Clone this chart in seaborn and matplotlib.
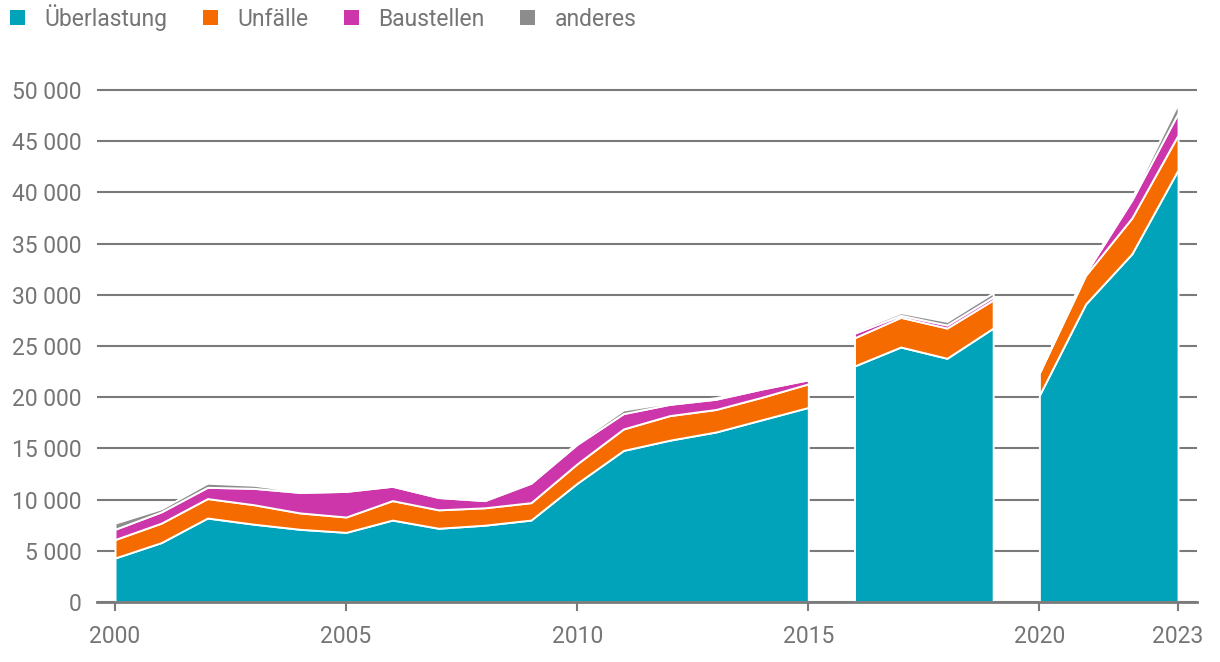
import matplotlib
matplotlib.use("Agg")
import matplotlib.pyplot as plt
from matplotlib.patches import Patch
import seaborn as sns
import numpy as np

# ---- data ----
years = list(range(2000, 2024))
ueberlastung = [4300, 5800, 8200, 7600, 7100, 6800, 8000, 7200, 7500, 8000, 11600, 14800,
                15800, 16600, 17800, 19000, 23050, 24900, 23800, 26750, 20200, 29100, 34000, 42200]
unfaelle = [1800, 1900, 1900, 1900, 1600, 1500, 1900, 1800, 1700, 1700, 1900, 2100,
            2400, 2200, 2200, 2300, 2750, 2900, 2950, 2750, 2200, 2800, 3500, 3400]
baustellen = [1000, 1100, 1100, 1600, 2000, 2500, 1400, 1200, 700, 1900, 1900, 1500,
              1100, 1000, 800, 400, 450, 200, 300, 300, 0, 200, 1750, 2150]
anderes = [600, 300, 400, 300, 100, 100, 100, 100, 100, 200, 200, 350,
           150, 150, 150, 150, 200, 250, 350, 400, 0, 300, 250, 950]
series_labels = ["Überlastung", "Unfälle", "Baustellen", "anderes"]
segments = [(2000, 2015), (2016, 2019), (2020, 2023)]  # continuous stretches of the series
x_ticks = [2000, 2005, 2010, 2015, 2020, 2023]
y_ticks = [0, 5000, 10000, 15000, 20000, 25000, 30000, 35000, 40000, 45000, 50000]

colors = ["#00a3ba", "#f56b00", "#cc36aa", "#8c8c8c"]
text_color = "#757575"
grid_color = "#7a7a7a"

sns.set_theme(style="white")
plt.rcParams["font.family"] = ["Roboto", "DejaVu Sans"]

fig = plt.figure(figsize=(12.2, 6.62), dpi=100)
W, H = 1220, 662
ax = fig.add_axes([97 / W, 60 / H, 1100 / W, 532.5 / H])

yrs = np.array(years)
stack = [np.array(s) for s in (ueberlastung, unfaelle, baustellen, anderes)]
for a, b in segments:
    m = (yrs >= a) & (yrs <= b)
    ax.stackplot(yrs[m], *[s[m] for s in stack], colors=colors,
                 edgecolor="white", linewidth=1.4, zorder=3)

ax.set_xlim(1999.61, 2023.41)
ax.set_ylim(0, 52000)
ax.set_xticks(x_ticks)
ax.set_xticklabels([str(t) for t in x_ticks])
ax.set_yticks(y_ticks)
ax.set_yticklabels([f"{v:,}".replace(",", " ") for v in y_ticks])

ax.set_axisbelow(True)
ax.yaxis.grid(True, color=grid_color, linewidth=1.5)
ax.xaxis.grid(False)
for s in ("top", "right", "left"):
    ax.spines[s].set_visible(False)
ax.spines["bottom"].set_color(grid_color)
ax.spines["bottom"].set_linewidth(2)
ax.spines["bottom"].set_zorder(5)

ax.tick_params(axis="y", length=0, pad=11, labelsize=16.5, labelcolor=text_color)
ax.tick_params(axis="x", length=6.5, width=1.5, color=grid_color, direction="out",
               pad=10, labelsize=16.5, labelcolor=text_color, bottom=True)

handles = [Patch(facecolor=c, edgecolor="none", label=l) for c, l in zip(colors, series_labels)]
leg = fig.legend(handles=handles, loc="upper left", bbox_to_anchor=(10 / W, 1 - 4 / H),
                 ncol=4, frameon=False, fontsize=16.5, handlelength=0.65, handleheight=0.65,
                 handletextpad=0.85, columnspacing=1.55, borderaxespad=0, borderpad=0)
for t in leg.get_texts():
    t.set_color(text_color)

fig.savefig("out.png", dpi=100)
